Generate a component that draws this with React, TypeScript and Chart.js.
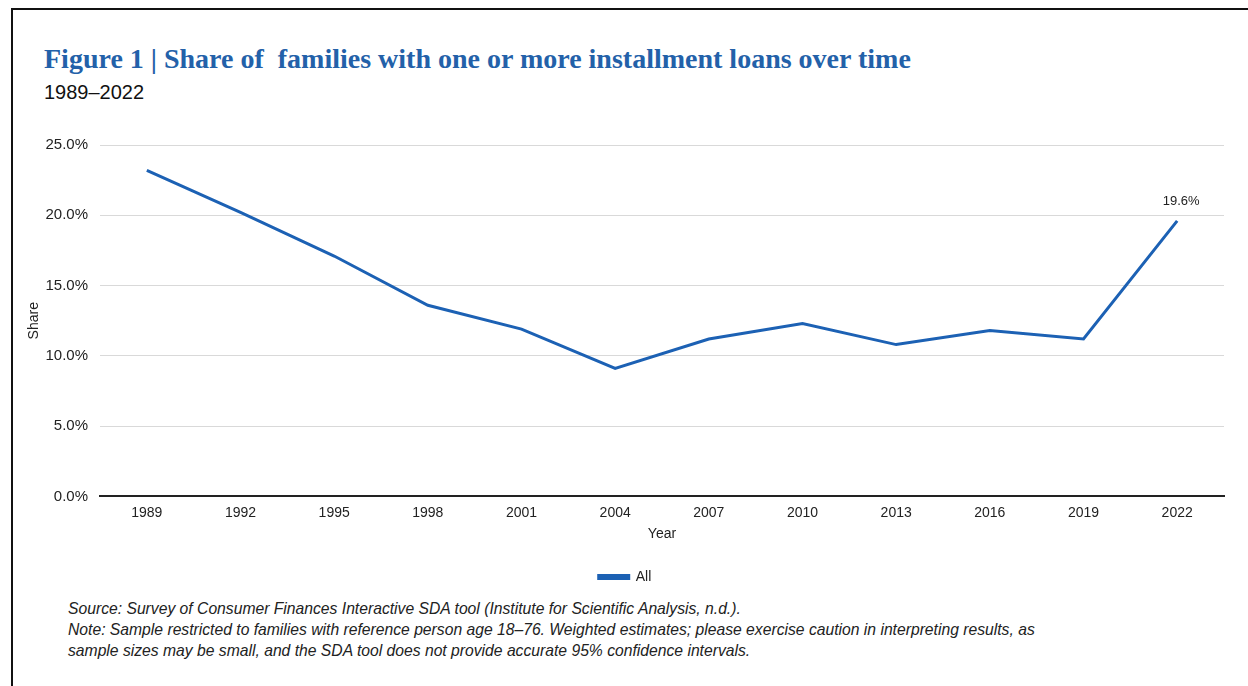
import React, { useEffect, useRef } from "react";
import { Chart, registerables } from "chart.js";

Chart.register(...registerables);

const years = ["1989", "1992", "1995", "1998", "2001", "2004", "2007", "2010", "2013", "2016", "2019", "2022"];
const shareAll = [23.2, 20.2, 17.1, 13.6, 11.9, 9.1, 11.2, 12.3, 10.8, 11.8, 11.2, 19.6];
const yTicks = [0, 5, 10, 15, 20, 25];

const BLUE = "#1c61b4";
const FONT = "Arial, 'Liberation Sans', sans-serif";

const lastLabelPlugin = {
  id: "lastLabel",
  afterDatasetsDraw(chart: any) {
    const meta = chart.getDatasetMeta(0);
    const i = shareAll.length - 1;
    const pt = meta.data[i];
    if (!pt) return;
    const ctx = chart.ctx;
    ctx.save();
    ctx.font = "13px " + FONT;
    ctx.fillStyle = "#222";
    ctx.textAlign = "center";
    ctx.textBaseline = "middle";
    ctx.fillText(shareAll[i].toFixed(1) + "%", pt.x + 4, pt.y - 19);
    ctx.restore();
  },
};

function LineChart() {
  const ref = useRef<HTMLCanvasElement>(null);
  useEffect(() => {
    if (!ref.current) return;
    const chart = new Chart(ref.current, {
      type: "line",
      data: {
        labels: years,
        datasets: [
          {
            label: "All",
            data: shareAll,
            borderColor: BLUE,
            backgroundColor: BLUE,
            borderWidth: 3,
            pointRadius: 0,
            tension: 0,
          },
        ],
      },
      options: {
        animation: false,
        responsive: false,
        maintainAspectRatio: false,
        layout: { padding: { left: 6, right: 24, top: 5, bottom: 2 } },
        plugins: {
          legend: {
            position: "bottom",
            labels: {
              boxWidth: 30,
              boxHeight: 3,
              color: "#222",
              font: { family: FONT, size: 14 },
              padding: 27,
            },
          },
          tooltip: { enabled: false },
        },
        scales: {
          x: {
            offset: true,
            grid: { display: false, drawTicks: false },
            border: { display: true, color: "#222", width: 2 },
            ticks: {
              color: "#222",
              padding: 8,
              font: { family: FONT, size: 14 },
              maxRotation: 0,
            },
            title: {
              display: true,
              text: "Year",
              color: "#222",
              font: { family: FONT, size: 14 },
              padding: { top: -3, bottom: 0 },
            },
          },
          y: {
            min: 0,
            max: 25,
            afterBuildTicks(axis: any) {
              axis.ticks = yTicks.map((v) => ({ value: v }));
            },
            afterFit(axis: any) {
              axis.width = 74;
            },
            grid: { color: "#d9d9d9", lineWidth: 1, drawTicks: false },
            border: { display: false },
            ticks: {
              color: "#222",
              padding: 12,
              font: { family: FONT, size: 15 },
              callback: (v: any) => Number(v).toFixed(1) + "%",
            },
            title: {
              display: true,
              text: "Share",
              color: "#222",
              font: { family: FONT, size: 14 },
              padding: { top: 0, bottom: 0 },
            },
          },
        },
      },
      plugins: [lastLabelPlugin],
    });
    return () => chart.destroy();
  }, []);
  return (
    <canvas
      ref={ref}
      width={1228}
      height={472}
      style={{ position: "absolute", left: 20, top: 124, width: 1228, height: 472 }}
    />
  );
}

export default function App() {
  return (
    <div
      style={{
        position: "absolute",
        left: 0,
        top: 0,
        width: 1248,
        height: 686,
        overflow: "hidden",
        background: "#fff",
      }}
    >
      <div
        style={{
          position: "absolute",
          left: 11,
          top: 8,
          width: 1300,
          height: 700,
          borderTop: "2px solid #111",
          borderLeft: "2px solid #111",
        }}
      />
      <div
        style={{
          position: "absolute",
          left: 44,
          top: 42,
          fontFamily: "'Liberation Serif', 'Times New Roman', serif",
          fontWeight: "bold",
          fontSize: 28,
          color: "#2361a9",
          whiteSpace: "pre",
          lineHeight: "34px",
        }}
      >
        {"Figure 1 | Share of  families with one or more installment loans over time"}
      </div>
      <div
        style={{
          position: "absolute",
          left: 44,
          top: 79,
          fontFamily: FONT,
          fontSize: 20,
          color: "#111",
          lineHeight: "26px",
        }}
      >
        1989–2022
      </div>
      <LineChart />
      <div
        style={{
          position: "absolute",
          left: 68,
          top: 598,
          fontFamily: FONT,
          fontStyle: "italic",
          fontSize: 15.7,
          color: "#222",
          lineHeight: "21px",
          whiteSpace: "pre",
        }}
      >
        {"Source: Survey of Consumer Finances Interactive SDA tool (Institute for Scientific Analysis, n.d.).\nNote: Sample restricted to families with reference person age 18–76. Weighted estimates; please exercise caution in interpreting results, as\nsample sizes may be small, and the SDA tool does not provide accurate 95% confidence intervals."}
      </div>
    </div>
  );
}
